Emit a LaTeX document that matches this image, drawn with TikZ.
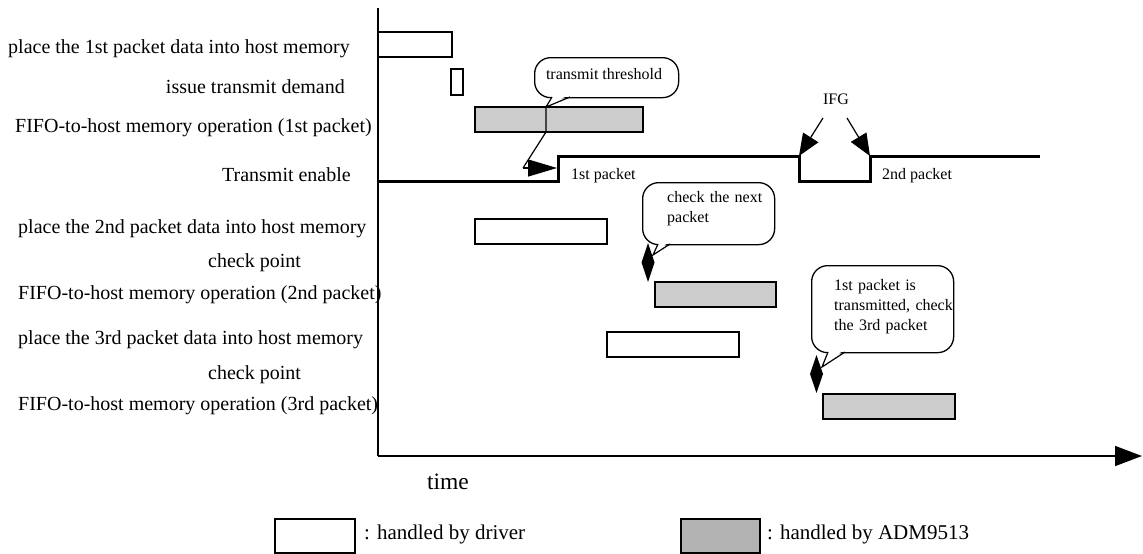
\documentclass[tikz,border=0pt]{standalone}
\usepackage{fontspec}
\setmainfont{Liberation Serif}
\usetikzlibrary{arrows.meta}
\definecolor{boxgray}{HTML}{CCCCCC}
\definecolor{leggray}{HTML}{B3B3B3}
\begin{document}
\begin{tikzpicture}[x=1pt,y=-1pt,
  lbl/.style={inner sep=0pt, font=\fontsize{20}{24}\selectfont},
  small/.style={inner sep=0pt, font=\fontsize{16}{20}\selectfont, align=left},
  legtext/.style={inner sep=0pt, font=\fontsize{21}{25}\selectfont},
  bx/.style={draw, line width=1.3pt, inner sep=0pt, outer sep=0pt, anchor=north west},
  drv/.style={bx, fill=white},
  adm/.style={bx, fill=boxgray},
  bubble/.style={draw, line width=1.3pt, fill=white, rounded corners=16pt, inner sep=0pt, anchor=north west},
  sig/.style={line width=3pt, line join=miter},
  axis/.style={line width=1.5pt},
  thin/.style={line width=1.2pt},
  ifgarrow/.style={line width=1.2pt, -{Triangle[length=22pt,width=18pt]}},
  diam/.style={fill=black}]
\useasboundingbox (0,0) rectangle (1143,554);

% row labels
\node[lbl, anchor=mid east] (l1) at (350,51) {place the 1st packet data into host memory};
\node[lbl, anchor=mid east] (l2) at (345,91) {issue transmit demand};
\node[lbl, anchor=mid east] (l3) at (372,130) {FIFO-to-host memory operation (1st packet)};
\node[lbl, anchor=mid east] (l4) at (351,179) {Transmit enable};
\node[lbl, anchor=mid west] (l5) at (18,231) {place the 2nd packet data into host memory};
\node[lbl, anchor=mid west] (l6) at (208,265) {check point};
\node[lbl, anchor=mid west] (l7) at (18,297) {FIFO-to-host memory operation (2nd packet)};
\node[lbl, anchor=mid west] (l8) at (18,342) {place the 3rd packet data into host memory};
\node[lbl, anchor=mid west] (l9) at (208,377) {check point};
\node[lbl, anchor=mid west] (l10) at (18,408) {FIFO-to-host memory operation (3rd packet)};

% axes
\coordinate (otop) at (378,8);
\coordinate (orig) at (378,456);
\coordinate (tend) at (1142,456);
\draw[axis] (otop) -- (orig);
\draw[axis, -{Triangle[length=27pt,width=20pt]}] (orig) -- (tend);
\node[inner sep=0pt, font=\fontsize{23.5}{28}\selectfont, anchor=mid] (time) at (448,487) {time};

% boxes
\node[drv, minimum width=74pt, minimum height=25pt] (b1) at (378,32) {};
\node[drv, minimum width=12pt, minimum height=26pt] (b2) at (451,69) {};
\node[adm, minimum width=168pt, minimum height=25pt] (b3) at (475,107) {};
\node[drv, minimum width=132pt, minimum height=25pt] (b5) at (475,219) {};
\node[adm, minimum width=121pt, minimum height=25pt] (b7) at (655,282) {};
\node[drv, minimum width=132pt, minimum height=25pt] (b8) at (607,332) {};
\node[adm, minimum width=132pt, minimum height=25pt] (b10) at (823,394) {};

% transmit enable signal
\coordinate (s0) at (378,181);
\coordinate (s1) at (558,181);
\coordinate (s2) at (558,156);
\coordinate (s3) at (799,156);
\coordinate (s4) at (799,181);
\coordinate (s5) at (870,181);
\coordinate (s6) at (870,156);
\coordinate (s7) at (1040,156);
\draw[sig] (s0) -- (s1) -- (s2) -- (s3) -- (s4) -- (s5) -- (s6) -- (s7);
\node[small, anchor=mid west] (p1) at (571,177) {1st packet};
\node[small, anchor=mid west] (p2) at (882,177) {2nd packet};

% IFG
\node[small, anchor=mid] (ifg) at (836,102) {IFG};
\coordinate (ifgl) at (823,118);
\coordinate (ifgr) at (847,118);
\draw[ifgarrow] (ifgl) -- (s3);
\draw[ifgarrow] (ifgr) -- (s6);

% callout 1: transmit threshold
\node[bubble, minimum width=144pt, minimum height=40pt] (c1) at (534,57) {};
\fill[white] (553,95) -- (569,95) -- (546,106) -- cycle;
\coordinate (t1a) at (552,97);
\coordinate (t1b) at (570,97);
\coordinate (t1tip) at (546,107);
\draw[thin] (t1a) -- (t1tip) -- (t1b);
\node[small, anchor=mid] (c1t) at (604,77) {transmit threshold};
\coordinate (k1) at (546,132);
\coordinate (k2) at (523,168);
\coordinate (k3) at (557,168);
\draw[thin] (t1tip) -- (k1) -- (k2);
\draw[thin, -{Triangle[length=29pt,width=17pt]}] (k2) -- (k3);

% callout 2: check the next packet
\node[bubble, minimum width=132pt, minimum height=62pt] (c2) at (642,182) {};
\fill[white] (659,242) -- (669,242) -- (653,254) -- cycle;
\coordinate (t2a) at (658,244);
\coordinate (t2b) at (670,244);
\coordinate (t2tip) at (653,255);
\draw[thin] (t2a) -- (t2tip) -- (t2b);
\node[small, anchor=north west, text width=110pt] (c2t) at (667,191) {check the next\\packet};
\fill[diam] (648,243) -- (654.5,262.5) -- (648,282) -- (641.5,262.5) -- cycle;

% callout 3
\node[bubble, minimum width=142pt, minimum height=87pt] (c3) at (811,265) {};
\fill[white] (829,350) -- (844,350) -- (822,366) -- cycle;
\coordinate (t3a) at (828,352);
\coordinate (t3b) at (845,352);
\coordinate (t3tip) at (822,367);
\draw[thin] (t3a) -- (t3tip) -- (t3b);
\node[small, anchor=north west, text width=125pt] (c3t) at (834,279) {1st packet is\\transmitted, check\\the 3rd packet};
\fill[diam] (816.5,355) -- (823,374) -- (816.5,393) -- (810,374) -- cycle;

% legend
\node[bx, fill=white, line width=1.8pt, minimum width=80pt, minimum height=34pt] (lg1) at (275,519) {};
\node[legtext, anchor=mid west] (lg1t) at (364,537) {: handled by driver};
\node[bx, fill=leggray, line width=1.8pt, minimum width=79pt, minimum height=34pt] (lg2) at (681,519) {};
\node[legtext, anchor=mid west] (lg2t) at (767,537) {: handled by ADM9513};
\end{tikzpicture}
\end{document}
